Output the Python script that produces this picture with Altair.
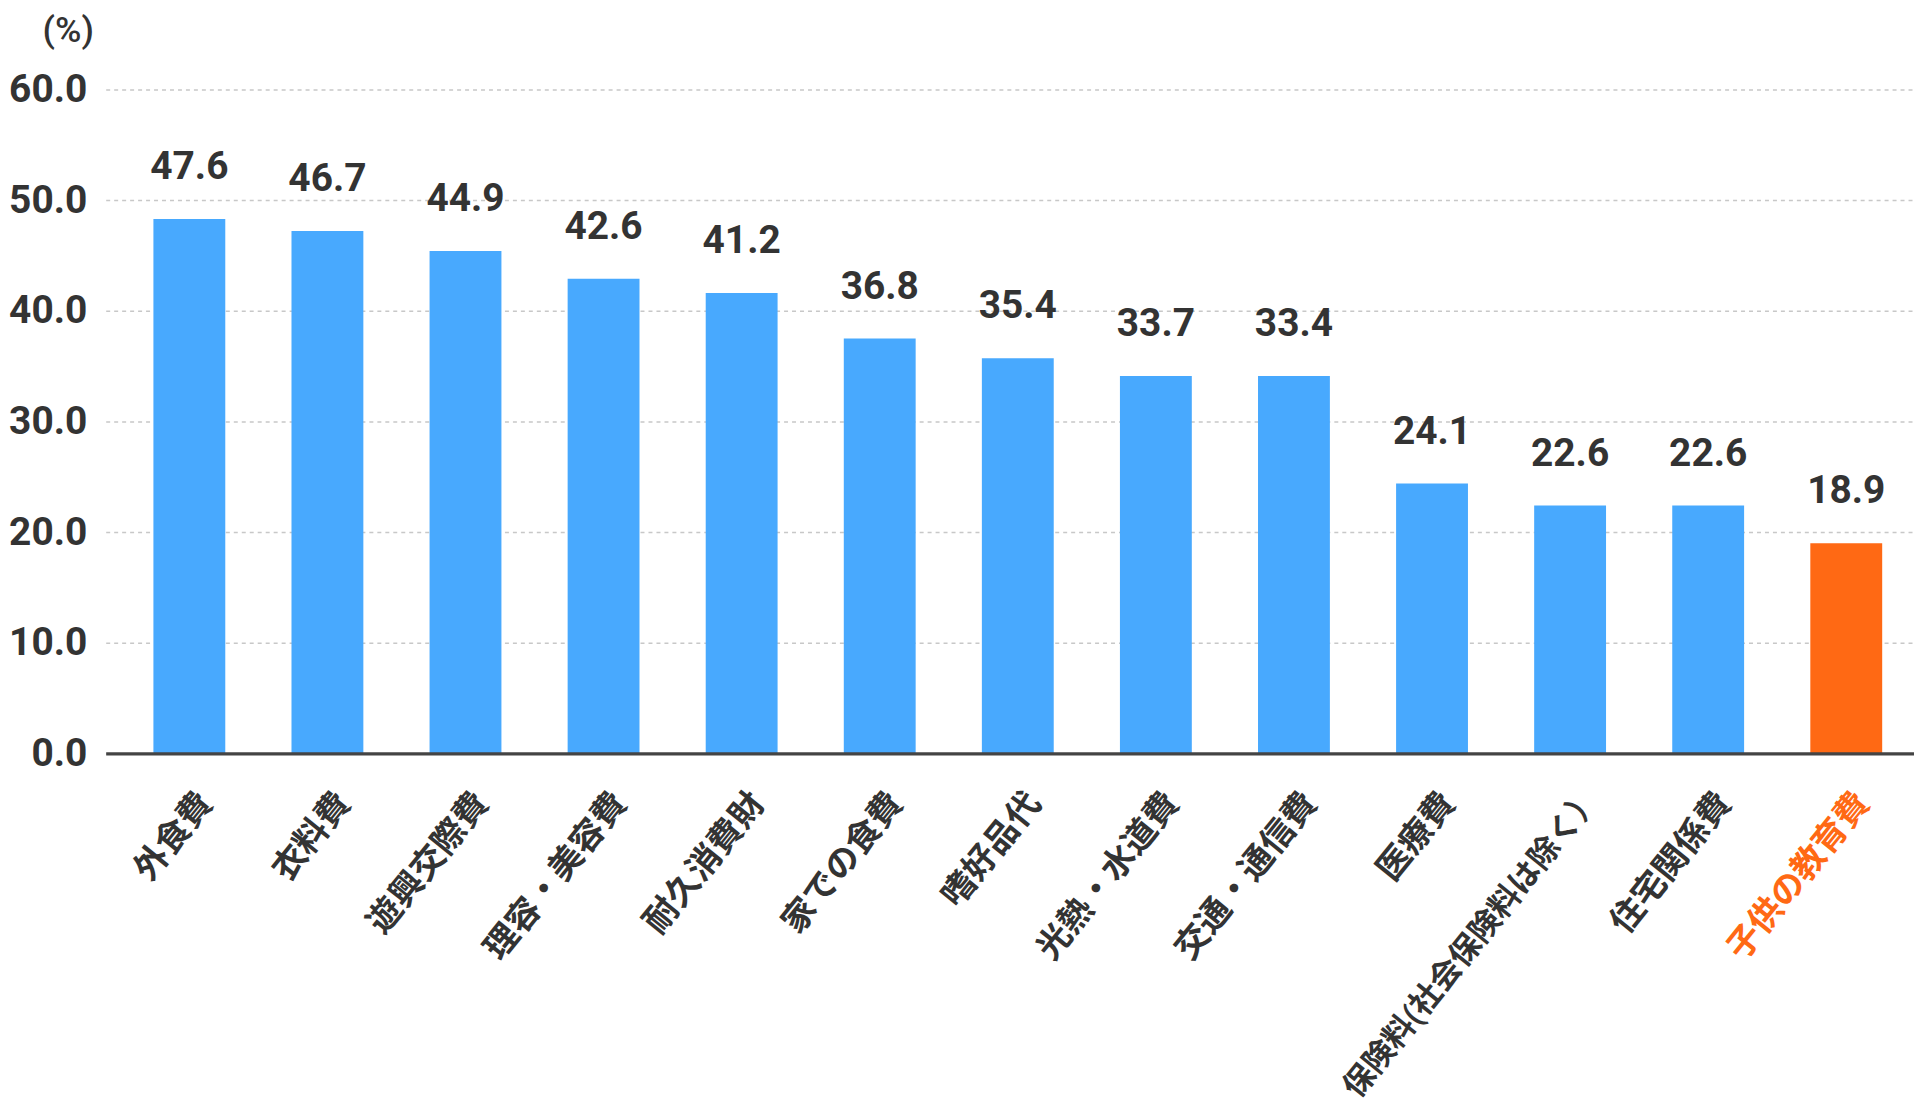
import altair as alt
import pandas as pd

categories = ["外食費", "衣料費", "遊興交際費", "理容・美容費", "耐久消費財", "家での食費",
              "嗜好品代", "光熱・水道費", "交通・通信費", "医療費",
              "保険料(社会保険料は除く）", "住宅関係費", "子供の教育費"]
bar_values = [48.3, 47.2, 45.4, 42.9, 41.6, 37.5, 35.7, 34.1, 34.1, 24.4, 22.4, 22.4, 19.0]
label_texts = ["47.6", "46.7", "44.9", "42.6", "41.2", "36.8", "35.4", "33.7", "33.4",
               "24.1", "22.6", "22.6", "18.9"]
highlight = "子供の教育費"
long_label = "保険料(社会保険料は除く）"
y_ticks = [0, 10, 20, 30, 40, 50, 60]

BLUE = "#48a9fe"
ORANGE = "#ff6914"
TEXT = "#333333"
FONT = "Roboto, 'Noto Sans CJK JP', sans-serif"

df = pd.DataFrame({"category": categories, "value": bar_values, "label": label_texts})
df["group"] = ["highlight" if c == highlight else "normal" for c in categories]

is_long = f"datum.value == '{long_label}'"

x_enc = alt.X(
    "category:N", sort=categories,
    scale=alt.Scale(paddingInner=0.4795, paddingOuter=0.288, align=0.6, round=False),
    axis=alt.Axis(
        title=None, labelAngle=-51, labelAlign="right", labelBaseline="middle",
        labelFont=FONT, labelFontWeight="bold",
        labelFontSize={"condition": {"test": is_long, "value": 31.5}, "value": 34},
        labelColor={"condition": {"test": f"datum.value == '{highlight}'", "value": ORANGE}, "value": TEXT},
        labelPadding={"condition": {"test": is_long, "value": 39}, "value": 44},
        labelOffset={"condition": {"test": is_long, "value": 25}, "value": 17},
        labelLimit=1000, labelOverlap=False,
        ticks=False, tickSize=0, domainColor="#444444", domainWidth=3.5, zindex=1,
    ),
)
y_enc = alt.Y(
    "value:Q",
    scale=alt.Scale(domain=[0, 60], nice=False, zero=True),
    axis=alt.Axis(
        values=y_ticks, format=".1f", title="(%)", titleAngle=0, titleX=-38, titleY=-59,
        titleAlign="center", titleBaseline="middle", titleFont=FONT, titleFontSize=36,
        titleFontWeight=500, titleColor=TEXT,
        labelFont=FONT, labelFontSize=39, labelFontWeight="bold", labelColor=TEXT,
        labelPadding=19, domain=False, ticks=False, grid=True, gridColor="#c8c8c8",
        gridDash=[4, 4], gridWidth=1.5,
    ),
)

base = alt.Chart(df).encode(x=x_enc, y=y_enc)

bars = base.mark_bar().encode(
    color=alt.Color("group:N", scale=alt.Scale(domain=["normal", "highlight"], range=[BLUE, ORANGE]), legend=None)
)
texts = base.mark_text(font=FONT, fontSize=39, fontWeight="bold", color=TEXT,
                       baseline="alphabetic", dy=-40).encode(text="label:N")

chart = (bars + texts).properties(
    width=1814, height=666,
    autosize=alt.AutoSizeParams(type="none"),
    padding={"left": 98, "top": 80, "right": 0, "bottom": 350},
    background="white",
).configure_view(stroke=None)

chart.save("out.html", embed_options={"renderer": "svg", "actions": False})
